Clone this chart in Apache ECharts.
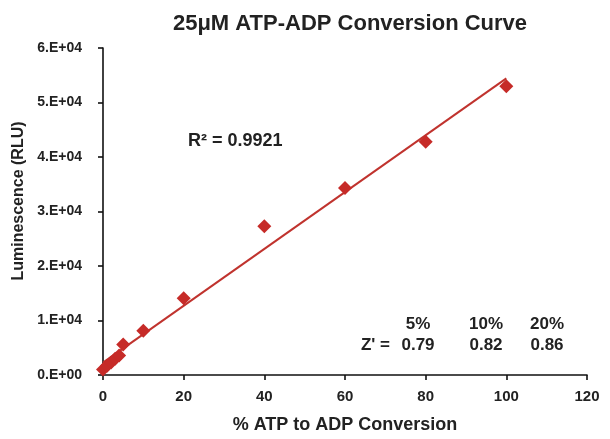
<!DOCTYPE html>
<html><head><meta charset="utf-8">
<script src="https://cdn.jsdelivr.net/npm/echarts@6/dist/echarts.min.js"></script>
<style>html,body{margin:0;padding:0;background:#fff}#c{width:610px;height:439px}</style>
</head><body><div id="c"></div>
<script>
const conversion = [0, 1, 2, 3, 4, 5, 10, 20, 40, 60, 80, 100];
const luminescence = [1000, 1700, 2300, 3000, 3600, 5600, 8100, 14100, 27300, 34300, 42800, 53000];
const xTicks = [0, 20, 40, 60, 80, 100, 120];
const yTicks = ['0.E+00','1.E+04','2.E+04','3.E+04','4.E+04','5.E+04','6.E+04'];
const zHeaders = ['5%', '10%', '20%'];
const zValues = ['0.79', '0.82', '0.86'];
const r2Text = 'R² = 0.9921';

// linear least-squares trendline from the data
const n = conversion.length;
const mx = conversion.reduce((a,b)=>a+b,0)/n;
const my = luminescence.reduce((a,b)=>a+b,0)/n;
let sxy=0, sxx=0;
for (let i=0;i<n;i++){ sxy+=(conversion[i]-mx)*(luminescence[i]-my); sxx+=(conversion[i]-mx)**2; }
const slope = sxy/sxx, icpt = my - slope*mx;
const xmin = Math.min(...conversion), xmax = Math.max(...conversion);
const trend = [[xmin, icpt+slope*xmin],[xmax, icpt+slope*xmax]];

const font = 'Liberation Sans, Arial, sans-serif';
const txt = '#222';
const colX = [418, 486, 547];
const chart = echarts.init(document.getElementById('c'));
chart.setOption({
  animation:false,
  title:{text:'25μM ATP-ADP Conversion Curve', left:345, textAlign:'center', top:8,
    textStyle:{fontFamily:font, fontWeight:'bold', fontSize:22, color:txt}},
  grid:{left:103, right:23, top:48, bottom:59},
  xAxis:{type:'value', min:0, max:120, interval:20,
    name:'% ATP to ADP Conversion', nameLocation:'middle', nameGap:41,
    nameTextStyle:{fontFamily:font, fontWeight:'bold', fontSize:18, color:txt},
    axisLine:{lineStyle:{color:'#111', width:1.6}},
    axisTick:{show:true, length:5, lineStyle:{color:'#111', width:1.6}},
    axisLabel:{fontFamily:font, fontWeight:'bold', fontSize:15, color:txt, margin:14,
      formatter:v=> xTicks.includes(v) ? String(v) : ''},
    splitLine:{show:false}},
  yAxis:{type:'value', min:0, max:60000, interval:10000,
    name:'Luminescence (RLU)', nameLocation:'middle', nameGap:75, nameRotate:90,
    nameTextStyle:{fontFamily:font, fontWeight:'bold', fontSize:16, color:txt, padding:[0,0,0,21]},
    axisLine:{show:true, lineStyle:{color:'#111', width:1.6}},
    axisTick:{show:true, length:5, lineStyle:{color:'#111', width:1.6}},
    axisLabel:{fontFamily:font, fontWeight:'bold', fontSize:14, color:txt, margin:21,
      formatter:v=> yTicks[Math.round(v/10000)]},
    splitLine:{show:false}},
  series:[
    {type:'line', data:trend, symbol:'none', lineStyle:{color:'#c0332e', width:2}, z:2},
    {type:'scatter', data:conversion.map((x,i)=>[x,luminescence[i]]), symbol:'diamond',
      symbolSize:[14,14], itemStyle:{color:'#c62b28', opacity:1}, z:3}
  ],
  graphic:[
    {type:'text', x:188, y:141, style:{text:r2Text, font:'bold 18px '+font, fill:txt, textVerticalAlign:'middle'}},
    {type:'text', x:390, y:345, style:{text:"Z' =", font:'bold 17px '+font, fill:txt, textAlign:'right', textVerticalAlign:'middle'}},
    ...zHeaders.map((t,i)=>({type:'text', x:colX[i], y:324, style:{text:t, font:'bold 17px '+font, fill:txt, textAlign:'center', textVerticalAlign:'middle'}})),
    ...zValues.map((t,i)=>({type:'text', x:colX[i], y:345, style:{text:t, font:'bold 17px '+font, fill:txt, textAlign:'center', textVerticalAlign:'middle'}}))
  ]
});
</script></body></html>
